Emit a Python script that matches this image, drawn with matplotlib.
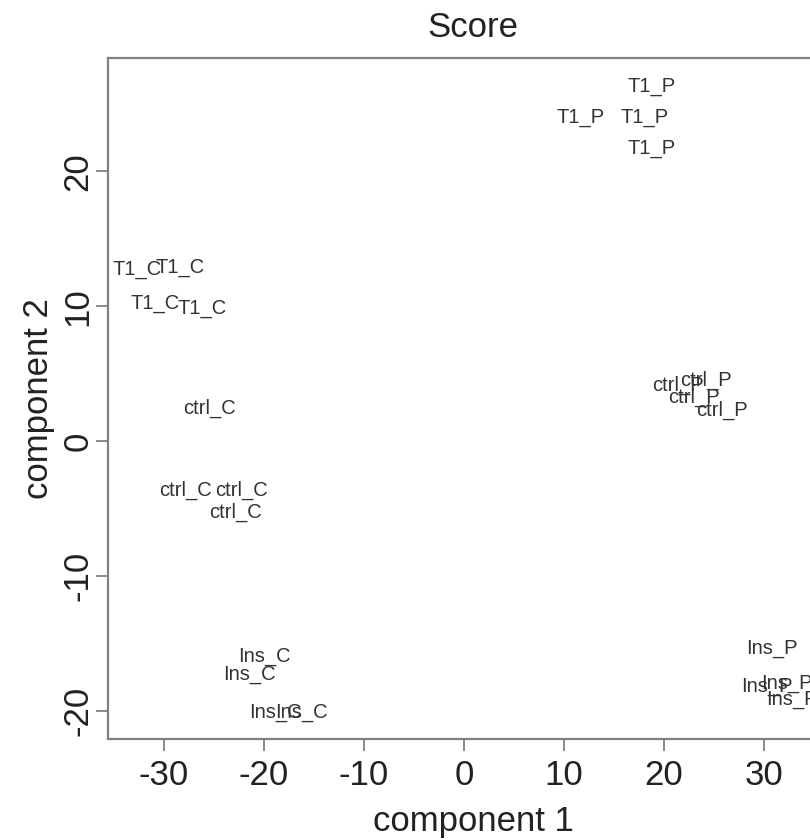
import matplotlib
matplotlib.use("Agg")
import matplotlib.pyplot as plt

labels = ["T1_P", "T1_P", "T1_P", "T1_P",
          "T1_C", "T1_C", "T1_C", "T1_C",
          "ctrl_C", "ctrl_C", "ctrl_C", "ctrl_C",
          "ctrl_P", "ctrl_P", "ctrl_P", "ctrl_P",
          "Ins_C", "Ins_C", "Ins_C", "Ins_C",
          "Ins_P", "Ins_P", "Ins_P", "Ins_P"]
comp1 = [18.8, 11.7, 18.1, 18.8,
         -32.7, -28.4, -30.9, -26.2,
         -25.4, -27.9, -22.2, -22.8,
         21.4, 24.2, 23.0, 25.8,
         -20.0, -21.5, -18.9, -16.3,
         30.8, 30.3, 32.3, 32.8]
comp2 = [26.3, 24.0, 24.0, 21.7,
         12.7, 12.9, 10.2, 9.8,
         2.4, -3.7, -3.7, -5.3,
         4.1, 4.5, 3.2, 2.3,
         -16.0, -17.3, -20.1, -20.1,
         -15.4, -18.2, -18.0, -19.2]
xticks = [-30, -20, -10, 0, 10, 20, 30]
yticks = [-20, -10, 0, 10, 20]

plt.rcParams['font.family'] = ['Liberation Sans', 'DejaVu Sans']

fig = plt.figure(figsize=(8.1, 8.4), dpi=100)
ax = fig.add_axes([108/810, 101/840, (838-108)/810, (739-58)/840])
ax.set_xlim(-35.6, 37.4)
ax.set_ylim(-22.1, 28.4)

for lab, x, y in zip(labels, comp1, comp2):
    ax.text(x, y, lab, ha='center', va='center', fontsize=14.5, color='#333333')

ax.set_xticks(xticks)
ax.set_yticks(yticks)
ax.set_xticklabels([str(v) for v in xticks], fontsize=25, color='#222222')
ax.set_yticklabels([str(v) for v in yticks], fontsize=25, color='#222222',
                   rotation=90, va='center')
ax.tick_params(direction='out', length=8.6, width=1.2, color='#777777')
ax.tick_params(axis='x', pad=6)
ax.tick_params(axis='y', pad=1)
for s in ax.spines.values():
    s.set_color('#808080')
    s.set_linewidth(1.6)

ax.set_xlabel("component 1", fontsize=25, color='#222222', labelpad=9)
ax.set_ylabel("component 2", fontsize=25, color='#222222', labelpad=5)
ax.set_title("Score", fontsize=25, color='#222222', pad=15)

fig.savefig("out.png", dpi=100)
